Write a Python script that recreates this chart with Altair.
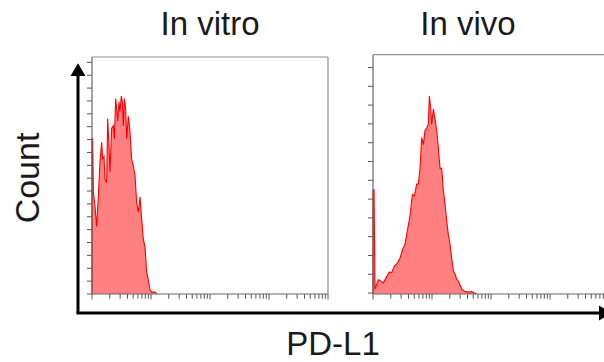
import altair as alt
import pandas as pd
import numpy as np

# ---- data (x in decades of PD-L1, y in % of panel height) ----
vitro_x = [0.0, 0.0, 0.011, 0.023, 0.051, 0.079, 0.107, 0.136, 0.164, 0.181, 0.203, 0.220,
           0.249, 0.266, 0.288, 0.305, 0.333, 0.362, 0.379, 0.401, 0.418, 0.435, 0.458,
           0.475, 0.497, 0.514, 0.531, 0.548, 0.571, 0.588, 0.616, 0.644, 0.672, 0.701,
           0.729, 0.757, 0.785, 0.814, 0.842, 0.870, 0.898, 0.927, 0.955, 0.983, 1.011,
           1.068, 1.096]
vitro_y = [0, 65, 65.5, 43, 37, 28.5, 41, 56, 64, 57, 58, 48.5, 47, 74, 62.5, 51.5, 70, 71,
           65.5, 82.5, 78, 73, 81, 77, 83.5, 81, 71, 82.5, 78, 65.5, 75, 68.5, 57, 54, 50,
           38.5, 34.5, 41, 31.5, 23, 20, 9, 6, 1.7, 0.8, 0.8, 0]

vivo_x = [0.0, 0.0, 0.017, 0.034, 0.062, 0.090, 0.130, 0.175, 0.220, 0.277, 0.316, 0.362,
          0.412, 0.458, 0.503, 0.542, 0.582, 0.627, 0.667, 0.701, 0.740, 0.768, 0.797,
          0.825, 0.853, 0.881, 0.910, 0.938, 0.955, 0.977, 0.994, 1.023, 1.051, 1.079,
          1.107, 1.136, 1.164, 1.192, 1.220, 1.249, 1.277, 1.305, 1.333, 1.362, 1.390,
          1.418, 1.446, 1.475, 1.503, 1.559, 1.616, 1.672, 1.729, 1.75]
vivo_y = [0, 44, 44, 2, 4, 6, 5.5, 4.7, 6.8, 9.3, 9, 11.8, 13, 15.2, 19, 21, 26.6, 33, 42,
          41.4, 46.4, 46.4, 53, 66, 63, 69, 70, 71.7, 83.5, 78.5, 71.7, 78, 74, 69, 61.6,
          53, 53, 43.5, 38, 30.8, 25, 21, 15.2, 9.7, 8.4, 6.3, 5.5, 3.8, 2, 1, 0.8, 1,
          0.3, 0]

panel_titles = ["In vitro", "In vivo"]
y_label = "Count"
x_label = "PD-L1"
n_decades = 4
panel_offsets = [0.0, 4.763]          # where each panel starts on the shared x scale
panel_tops = [100, 101]
left_tick_count = [19, 13]
left_tick_step = [5.43, 7.93]

# ---- shared scales (decade units horizontally, % units vertically) ----
PX_X = 59.0
PX_Y = 2.37
xs = alt.Scale(domain=[-92 / PX_X, 512 / PX_X], nice=False, zero=False)
ys = alt.Scale(domain=[-68 / PX_Y, 294 / PX_Y], nice=False, zero=False)

# histogram table
rows = []
for p, (xv, yv) in enumerate([(vitro_x, vitro_y), (vivo_x, vivo_y)]):
    for i, (a, b) in enumerate(zip(xv, yv)):
        rows.append({"panel": panel_titles[p], "x": a + panel_offsets[p], "y": b,
                     "y0": 0.0, "i": i})
hist = pd.DataFrame(rows)

X = lambda f="x": alt.X(f"{f}:Q", scale=xs, axis=None)
Y = lambda f="y": alt.Y(f"{f}:Q", scale=ys, axis=None)

area = alt.Chart(hist).mark_area(color="#ff8080", opacity=1, line=False).encode(
    x=X(), y=Y(), y2="y0:Q", detail="panel:N")
line = alt.Chart(hist).mark_line(color="#ff0000", strokeWidth=1.1).encode(
    x=X(), y=Y(), order="i:Q", detail="panel:N")

# ticks & frames
tick_rows, frame_dark, frame_light = [], [], []
for p in range(2):
    o = panel_offsets[p]
    top = panel_tops[p]
    for d in range(n_decades):
        for k in range(1, 10):
            pos = o + d + np.log10(k)
            tick_rows.append({"x": pos, "x2": pos, "y": 0, "y2": -2.3 if k == 1 else -2.0})
    tick_rows.append({"x": o + n_decades, "x2": o + n_decades, "y": 0, "y2": -2.3})
    for j in range(left_tick_count[p]):
        yy = j * left_tick_step[p] + (0.4 if p == 1 else 0)
        tick_rows.append({"x": o, "x2": o - 5 / PX_X, "y": yy, "y2": yy})
    frame_dark.append({"x": o, "x2": o + n_decades, "y": 0, "y2": 0})
    frame_dark.append({"x": o, "x2": o, "y": 0, "y2": top})
    frame_light.append({"x": o, "x2": o + n_decades, "y": top, "y2": top})
    frame_light.append({"x": o + n_decades, "x2": o + n_decades, "y": 0, "y2": top})

def rules(rws, color, width):
    return alt.Chart(pd.DataFrame(rws)).mark_rule(color=color, strokeWidth=width).encode(
        x=X(), x2="x2:Q", y=Y(), y2="y2:Q")

ticks = rules(tick_rows, "#555555", 1)
fdark = rules(frame_dark, "#666666", 1.2)
flight = rules(frame_light, "#909090", 1.2)

# big axis arrows
arrow_lines = rules([
    {"x": -14 / PX_X, "x2": -14 / PX_X, "y": -19 / PX_Y, "y2": 218 / PX_Y},
    {"x": -15.5 / PX_X, "x2": 508 / PX_X, "y": -19 / PX_Y, "y2": -19 / PX_Y},
], "black", 3)
heads = pd.DataFrame([
    {"x": -14 / PX_X, "y": 224.5 / PX_Y, "shape": "M-1,0.85L0,-0.85L1,0.85Z"},
    {"x": 513.4 / PX_X, "y": -19 / PX_Y, "shape": "M-0.85,-1L0.85,0L-0.85,1Z"},
])
arrow_heads = alt.Chart(heads).mark_point(filled=True, color="black", opacity=1, size=225,
                                          strokeWidth=0).encode(
    x=X(), y=Y(), shape=alt.Shape("shape:N", scale=None))

# text
font = "Liberation Sans"
tdf = pd.DataFrame([
    {"x": (210 - 92) / PX_X, "y": (294 - 35) / PX_Y, "t": panel_titles[0]},
    {"x": (468 - 92) / PX_X, "y": (294 - 35) / PX_Y, "t": panel_titles[1]},
    {"x": (333 - 92) / PX_X, "y": (294 - 355) / PX_Y, "t": x_label},
])
texts = alt.Chart(tdf).mark_text(font=font, fontSize=33, color="#1a1a1a", align="center",
                                 baseline="alphabetic").encode(x=X(), y=Y(), text="t:N")
ylab = alt.Chart(pd.DataFrame([{"x": (39 - 92) / PX_X, "y": (294 - 178) / PX_Y, "t": y_label}])
                 ).mark_text(font=font, fontSize=34, color="#1a1a1a", align="center",
                             baseline="alphabetic", angle=270).encode(x=X(), y=Y(), text="t:N")

chart = alt.layer(area, line, ticks, fdark, flight, arrow_lines, arrow_heads, texts, ylab
                  ).properties(width=604, height=362, padding=0,
                               autosize=alt.AutoSizeParams(type="none")
                  ).configure_view(stroke=None)

chart.save("out.html", embed_options={"renderer": "svg", "actions": False})
